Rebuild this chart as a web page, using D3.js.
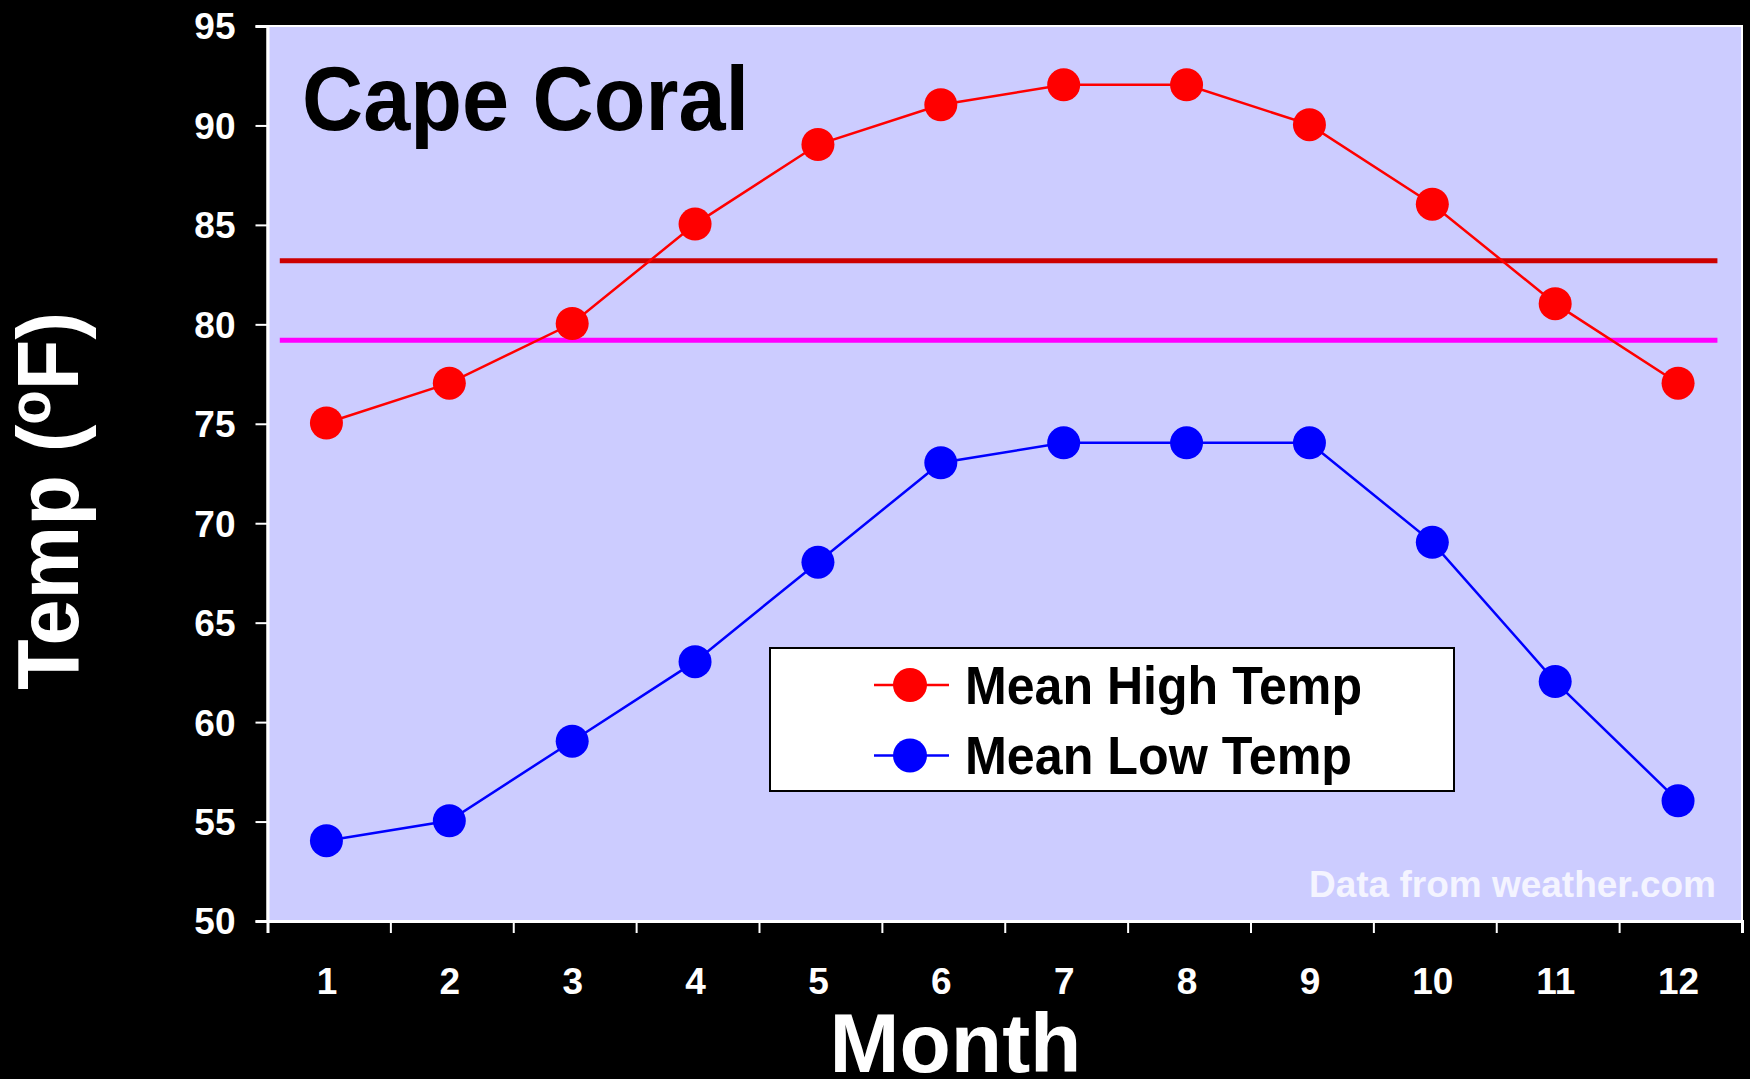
<!DOCTYPE html>
<html><head><meta charset="utf-8">
<script src="https://cdn.jsdelivr.net/npm/d3@7"></script>
<style>html,body{margin:0;padding:0;background:#000;}svg{display:block;}</style>
</head><body>
<svg id="c" width="1750" height="1079"></svg>
<script>
const months = [1,2,3,4,5,6,7,8,9,10,11,12];
const highTemps = [75,77,80,85,89,91,92,92,90,86,81,77];
const lowTemps  = [54,55,59,63,68,73,74,74,74,69,62,56];
const yTicks = [50,55,60,65,70,75,80,85,90,95];
const refLines = [83.2, 79.2];
const refColors = ["#CC0000", "#FF00FF"];
const seriesNames = ["Mean High Temp", "Mean Low Temp"];
const seriesColors = ["#FF0000", "#0000FF"];
const title = "Cape Coral";
const note = "Data from weather.com";

const svg = d3.select("#c");
const font = "'Liberation Sans', Arial, sans-serif";
const L = 267.5, R = 1742, T = 26, B = 921;
const x = d3.scaleLinear().domain([0.5, 12.5]).range([L, R]);
const y = d3.scaleLinear().domain([50, 95]).range([B, T]);
const shiftX = -2.5, shiftY = -0.8;

svg.append("rect").attr("width",1750).attr("height",1079).attr("fill","#000");
// plot area
svg.append("rect").attr("x",L).attr("y",T).attr("width",R-L).attr("height",B-T)
  .attr("fill","#CCCCFF").attr("stroke","#FFFFFF").attr("stroke-width",2);

// reference lines
svg.selectAll("line.ref").data(refLines).join("line").attr("class","ref")
  .attr("x1", x(0.6)).attr("x2", x(12.3))
  .attr("y1", d=>y(d)).attr("y2", d=>y(d))
  .attr("stroke",(d,i)=>refColors[i]).attr("stroke-width",5);

// y axis
const yAxis = svg.append("g").attr("transform",`translate(${L},0)`)
  .call(d3.axisLeft(y).tickValues(yTicks).tickSize(12).tickPadding(20));
yAxis.select(".domain").attr("stroke","#FFFFFF").attr("stroke-width",3);
yAxis.selectAll(".tick line").attr("stroke","#FFFFFF").attr("stroke-width",2);
yAxis.selectAll(".tick text").attr("fill","#FFFFFF").attr("font-family",font)
  .attr("font-weight","bold").attr("font-size",37).attr("dy","0.35em");

// x axis ticks at boundaries
const xAxis = svg.append("g").attr("transform",`translate(0,${B})`)
  .call(d3.axisBottom(x).tickValues(d3.range(0.5,12.6,1)).tickSize(12).tickFormat(""));
xAxis.select(".domain").attr("stroke","#FFFFFF").attr("stroke-width",3);
xAxis.selectAll(".tick line").attr("stroke","#FFFFFF").attr("stroke-width",2);
// x labels
const xLab = svg.append("g").attr("transform",`translate(${shiftX},${B})`)
  .call(d3.axisBottom(x).tickValues(months).tickSize(0).tickFormat(d3.format("d")));
xLab.select(".domain").remove();
xLab.selectAll(".tick text").attr("fill","#FFFFFF").attr("font-family",font)
  .attr("font-weight","bold").attr("font-size",37).attr("y",0).attr("dy",0)
  .attr("transform","translate(0,73)");

// series
const series = [highTemps, lowTemps];
const line = d3.line().x((d,i)=>x(months[i])).y(d=>y(d));
const sg = svg.append("g").attr("transform",`translate(${shiftX},${shiftY})`);
series.forEach((s,k)=>{
  sg.append("path").datum(s).attr("d",line).attr("fill","none")
    .attr("stroke",seriesColors[k]).attr("stroke-width",2.5);
  sg.selectAll(null).data(s).join("circle")
    .attr("cx",(d,i)=>x(months[i])).attr("cy",d=>y(d)).attr("r",16.5)
    .attr("fill",seriesColors[k]);
});

// title
svg.append("text").attr("x",302).attr("y",130).text(title)
  .attr("font-family",font).attr("font-weight","bold").attr("font-size",90)
  .attr("fill","#000").attr("textLength",447).attr("lengthAdjust","spacingAndGlyphs");

// note
svg.append("text").attr("x",1716).attr("y",897).attr("text-anchor","end").text(note)
  .attr("font-family",font).attr("font-weight","bold").attr("font-size",37)
  .attr("fill","#F4F4FF").attr("textLength",407).attr("lengthAdjust","spacingAndGlyphs");

// legend
const lg = svg.append("g");
lg.append("rect").attr("x",770).attr("y",648).attr("width",684).attr("height",143)
  .attr("fill","#FFFFFF").attr("stroke","#000").attr("stroke-width",2);
const legY = [685, 755.5];
const legBase = [704, 773.5];
const legW = [397, 387];
seriesNames.forEach((n,k)=>{
  lg.append("line").attr("x1",874).attr("x2",949).attr("y1",legY[k]).attr("y2",legY[k])
    .attr("stroke",seriesColors[k]).attr("stroke-width",2.5);
  lg.append("circle").attr("cx",910).attr("cy",legY[k]).attr("r",17)
    .attr("fill",seriesColors[k]);
  lg.append("text").attr("x",965).attr("y",legBase[k]).text(n)
    .attr("font-family",font).attr("font-weight","bold").attr("font-size",54)
    .attr("fill","#000").attr("textLength",legW[k]).attr("lengthAdjust","spacingAndGlyphs");
});

// axis titles
svg.append("text").attr("x",955.5).attr("y",1072).attr("text-anchor","middle").text("Month")
  .attr("font-family",font).attr("font-weight","bold").attr("font-size",84).attr("fill","#FFFFFF");
const yt = svg.append("text").attr("transform","translate(78,501) rotate(-90)")
  .attr("text-anchor","middle")
  .attr("font-family",font).attr("font-weight","bold").attr("font-size",88).attr("fill","#FFFFFF")
  .attr("textLength",378).attr("lengthAdjust","spacingAndGlyphs");
yt.append("tspan").text("Temp (");
yt.append("tspan").text("o").attr("font-size",60).attr("dy",-28);
yt.append("tspan").text("F)").attr("dy",28);
</script>
</body></html>
